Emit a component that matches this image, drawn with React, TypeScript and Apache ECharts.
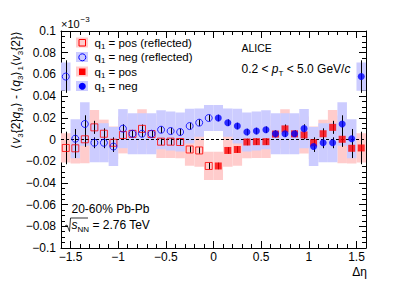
import { useEffect, useRef } from 'react';
import * as echarts from 'echarts';

// Δη bin centres (positive side); reflected points are drawn at −Δη
const etaCenters = [0.05, 0.15, 0.25, 0.35, 0.45, 0.55, 0.65, 0.75, 0.85, 0.95, 1.05, 1.15, 1.25, 1.35, 1.45, 1.55];
const binHalfWidth = 0.05;
// q1 = pos (red)
const posValues = [-0.0244, -0.0101, -0.0092, -0.0023, -0.002, -0.002, 0.005, 0.0098, 0.0052, 0.0042, -0.003, 0.0053, 0.0112, 0.0002, -0.0081, -0.0078];
const posStat = [0.003, 0.003, 0.003, 0.003, 0.003, 0.003, 0.003, 0.004, 0.003, 0.004, 0.005, 0.005, 0.006, 0.007, 0.009, 0.015];
const posSys = [0.013, 0.015, 0.015, 0.015, 0.015, 0.015, 0.017, 0.018, 0.018, 0.017, 0.015, 0.013, 0.016, 0.022, 0.014, 0.0135];
// q1 = neg (blue)
const negValues = [0.0198, 0.0155, 0.0124, 0.0069, 0.0078, 0.009, 0.0053, 0.0053, 0.0053, 0.01, -0.0065, -0.003, -0.003, 0.0143, 0.0007, 0.058];
const negStat = [0.003, 0.003, 0.003, 0.003, 0.003, 0.003, 0.003, 0.003, 0.003, 0.004, 0.005, 0.005, 0.005, 0.008, 0.009, 0.015];
const negSys = [0.012, 0.013, 0.016, 0.018, 0.018, 0.018, 0.019, 0.019, 0.019, 0.018, 0.018, 0.018, 0.018, 0.02, 0.018, 0.013];

const xTickValues = [-1.5, -1, -0.5, 0, 0.5, 1, 1.5];
const yTickValues = [-0.1, -0.08, -0.06, -0.04, -0.02, 0, 0.02, 0.04, 0.06, 0.08, 0.1];
const xMinorTicks = Array.from({ length: 31 }, (_, i) => +(-1.5 + i * 0.1).toFixed(2));
const yMinorTicks = Array.from({ length: 39 }, (_, i) => +(-0.095 + i * 0.005).toFixed(3));

const FONT = '"Liberation Sans", Arial, Helvetica, sans-serif';
const RED = '#ff0000';
const BLUE = '#0000ff';
const PINK = '#ffcccc';
const LAVENDER = '#ccccff';

const fmt = (v: number) => String(parseFloat(Number(v).toFixed(3))).replace('-', '\u2212');

const rows = (vals: number[], errs: number[], reflect: boolean) =>
  etaCenters.map((x, i) => [reflect ? -x : x, vals[i], errs[i]]);

const boxRender = (fill: string) => (params: any, api: any) => {
  const x = api.value(0);
  const y = api.value(1);
  const s = api.value(2);
  const p1 = api.coord([x - binHalfWidth, y + s]);
  const p2 = api.coord([x + binHalfWidth, y - s]);
  return {
    type: 'rect',
    shape: { x: p1[0], y: p1[1], width: p2[0] - p1[0], height: p2[1] - p1[1] },
    style: { fill },
  };
};

const errRender = (params: any, api: any) => {
  const x = api.value(0);
  const y = api.value(1);
  const e = api.value(2);
  const p1 = api.coord([x, y + e]);
  const p2 = api.coord([x, y - e]);
  const px = Math.round(p1[0]) + 0.5;
  return {
    type: 'line',
    shape: { x1: px, y1: p1[1], x2: px, y2: p2[1] },
    style: { stroke: '#000', lineWidth: 1 },
  };
};

const baseX = (position: 'top' | 'bottom', major: boolean) => ({
  type: 'value',
  min: -1.6,
  max: 1.6,
  position,
  axisLine: { show: major, onZero: false, lineStyle: { color: '#000', width: 1 } },
  axisTick: {
    show: true,
    inside: true,
    length: major ? 7 : 4,
    customValues: major ? xTickValues : xMinorTicks,
    lineStyle: { color: '#000', width: 1 },
  },
  axisLabel: {
    show: major && position === 'bottom',
    customValues: xTickValues,
    formatter: fmt,
    margin: 3,
    fontFamily: FONT,
    fontSize: 12,
    color: '#000',
  },
  splitLine: { show: false },
});

const baseY = (position: 'left' | 'right', major: boolean) => ({
  type: 'value',
  min: -0.1,
  max: 0.1,
  position,
  axisLine: { show: major, onZero: false, lineStyle: { color: '#000', width: 1 } },
  axisTick: {
    show: true,
    inside: true,
    length: major ? 7 : 4,
    customValues: major ? yTickValues : yMinorTicks,
    lineStyle: { color: '#000', width: 1 },
  },
  axisLabel: {
    show: major && position === 'left',
    customValues: yTickValues,
    formatter: fmt,
    margin: 5,
    fontFamily: FONT,
    fontSize: 12,
    color: '#000',
  },
  splitLine: { show: false },
});

const subRich = {
  i: { fontStyle: 'italic', fontSize: 12, fontFamily: FONT, fill: '#000' },
  s: { fontSize: 8, fontFamily: FONT, verticalAlign: 'bottom', lineHeight: 9, fill: '#000' },
};

const legendItems = [
  { label: 'q{s|1} = pos (reflected)', box: PINK, color: RED, symbol: 'square', filled: false, y: 42.5 },
  { label: 'q{s|1} = neg (reflected)', box: LAVENDER, color: BLUE, symbol: 'circle', filled: false, y: 57 },
  { label: 'q{s|1} = pos', box: PINK, color: RED, symbol: 'square', filled: true, y: 71.5 },
  { label: 'q{s|1} = neg', box: LAVENDER, color: BLUE, symbol: 'circle', filled: true, y: 86 },
];

export default function App() {
  const ref = useRef<HTMLDivElement>(null);
  useEffect(() => {
    if (!ref.current) return;
    const chart = echarts.init(ref.current, undefined, { renderer: 'svg' });

    const legendGraphics: any[] = [];
    legendItems.forEach((it) => {
      legendGraphics.push({ type: 'rect', shape: { x: 76, y: it.y - 5, width: 12, height: 10 }, style: { fill: it.box } });
      if (it.symbol === 'square') {
        legendGraphics.push({
          type: 'rect',
          shape: { x: 79, y: it.y - 3, width: 6.5, height: 6.5 },
          style: it.filled ? { fill: it.color } : { fill: 'none', stroke: it.color, lineWidth: 1 },
        });
      } else {
        legendGraphics.push({
          type: 'circle',
          shape: { cx: 82.3, cy: it.y + 0.3, r: 3.5 },
          style: it.filled ? { fill: it.color } : { fill: 'none', stroke: it.color, lineWidth: 1 },
        });
      }
      legendGraphics.push({
        type: 'text',
        x: 94.5,
        y: it.y,
        style: {
          text: it.label,
          fontFamily: FONT,
          fontSize: 11.5,
          fill: '#000',
          verticalAlign: 'middle',
          align: 'left',
          lineHeight: 15,
          rich: subRich,
        },
      });
    });

    const option: any = {
      animation: false,
      grid: { left: 61, top: 31, right: 41, bottom: 44, containLabel: false },
      xAxis: [baseX('bottom', true), baseX('bottom', false), baseX('top', true), baseX('top', false)],
      yAxis: [baseY('left', true), baseY('left', false), baseY('right', true), baseY('right', false)],
      series: [
        { type: 'custom', name: 'sysPos', renderItem: boxRender(PINK), data: [...rows(posValues, posSys, true), ...rows(posValues, posSys, false)], z: 1, silent: true },
        { type: 'custom', name: 'sysNeg', renderItem: boxRender(LAVENDER), data: [...rows(negValues, negSys, true), ...rows(negValues, negSys, false)], z: 1, silent: true },
        {
          type: 'line',
          name: 'zero',
          data: [[-1.6, 0], [1.6, 0]],
          symbol: 'none',
          lineStyle: { color: '#000', width: 1.2, type: [3, 2] },
          z: 3,
          silent: true,
        },
        { type: 'custom', name: 'statPos', renderItem: errRender, data: [...rows(posValues, posStat, true), ...rows(posValues, posStat, false)], z: 4, silent: true },
        { type: 'custom', name: 'statNeg', renderItem: errRender, data: [...rows(negValues, negStat, true), ...rows(negValues, negStat, false)], z: 4, silent: true },
        {
          type: 'scatter', name: 'pos reflected', symbol: 'rect', symbolSize: 7,
          data: rows(posValues, posStat, true).map((r) => [r[0], r[1]]),
          itemStyle: { color: 'transparent', borderColor: RED, borderWidth: 1 }, z: 5,
        },
        {
          type: 'scatter', name: 'neg reflected', symbol: 'circle', symbolSize: 7,
          data: rows(negValues, negStat, true).map((r) => [r[0], r[1]]),
          itemStyle: { color: 'transparent', borderColor: BLUE, borderWidth: 1 }, z: 5,
        },
        {
          type: 'scatter', name: 'pos', symbol: 'rect', symbolSize: 7,
          data: rows(posValues, posStat, false).map((r) => [r[0], r[1]]),
          itemStyle: { color: RED }, z: 5,
        },
        {
          type: 'scatter', name: 'neg', symbol: 'circle', symbolSize: 7,
          data: rows(negValues, negStat, false).map((r) => [r[0], r[1]]),
          itemStyle: { color: BLUE }, z: 5,
        },
      ],
      graphic: [
        ...legendGraphics,
        {
          type: 'text', x: 16, y: 31, rotation: Math.PI / 2,
          style: {
            text: '\u27e8{i|v}{s|3}{2}{i|q}{s|3}\u27e9 - \u27e8{i|q}{s|3}\u27e9{s|1}\u27e8{i|v}{s|3}{2}\u27e9',
            fontFamily: FONT, fontSize: 12, fill: '#000', align: 'right', verticalAlign: 'middle', lineHeight: 16,
            rich: subRich,
          },
        },
        { type: 'text', x: 61, y: 29, style: { text: '\u00d710', fontFamily: FONT, fontSize: 11, fill: '#000', align: 'left', verticalAlign: 'bottom' } },
        { type: 'text', x: 80.5, y: 23, style: { text: '\u22123', fontFamily: FONT, fontSize: 8, fill: '#000', align: 'left', verticalAlign: 'bottom' } },
        { type: 'text', x: 241.5, y: 48, style: { text: 'ALICE', fontFamily: FONT, fontSize: 10.5, fill: '#000', align: 'left', verticalAlign: 'middle' } },
        {
          type: 'text', x: 241.5, y: 69,
          style: { text: '0.2 < {i|p}{s|T} < 5.0 GeV/{i|c}', fontFamily: FONT, fontSize: 12, fill: '#000', align: 'left', verticalAlign: 'middle', lineHeight: 16, rich: subRich },
        },
        { type: 'text', x: 71.5, y: 209, style: { text: '20-60% Pb-Pb', fontFamily: FONT, fontSize: 12, fill: '#000', align: 'left', verticalAlign: 'middle' } },
        {
          type: 'text', x: 71.5, y: 225,
          style: { text: '{i|s}{s|NN} = 2.76 TeV', fontFamily: FONT, fontSize: 12, fill: '#000', align: 'left', verticalAlign: 'middle', lineHeight: 16, rich: subRich },
        },
        {
          type: 'polyline',
          shape: { points: [[65, 226], [67, 225], [69.5, 231.5], [70.5, 218], [88, 218]] },
          style: { stroke: '#000', lineWidth: 0.8, fill: 'none' },
        },
        { type: 'text', x: 367, y: 272, style: { text: '\u0394\u03b7', fontFamily: FONT, fontSize: 12, fill: '#000', align: 'right', verticalAlign: 'middle' } },
      ],
    };
    chart.setOption(option);
    return () => chart.dispose();
  }, []);
  return <div ref={ref} style={{ position: 'absolute', left: 0, top: 0, width: 407, height: 292, background: '#fff' }} />;
}
